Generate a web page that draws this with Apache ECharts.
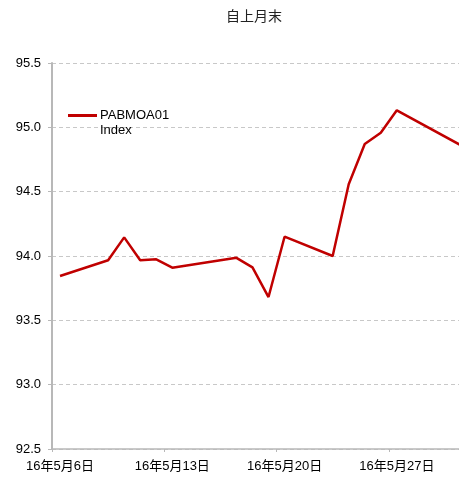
<!DOCTYPE html>
<html>
<head>
<meta charset="utf-8">
<script src="https://cdn.jsdelivr.net/npm/echarts@6/dist/echarts.min.js"></script>
<style>
html,body{margin:0;padding:0;background:#fff;}
#chart{width:459px;height:477px;}
</style>
</head>
<body>
<div id="chart"></div>
<script>
// Calendar days 2016-05-06 .. 2016-05-31 (null = no quote)
var categories = ["16年5月6日","16年5月7日","16年5月8日","16年5月9日","16年5月10日","16年5月11日","16年5月12日",
  "16年5月13日","16年5月14日","16年5月15日","16年5月16日","16年5月17日","16年5月18日","16年5月19日",
  "16年5月20日","16年5月21日","16年5月22日","16年5月23日","16年5月24日","16年5月25日","16年5月26日",
  "16年5月27日","16年5月28日","16年5月29日","16年5月30日","16年5月31日"];
var values = [93.845,null,null,93.967,94.145,93.967,93.974,
  93.909,null,null,null,93.986,93.912,93.681,
  94.15,null,null,94.0,94.557,94.87,94.958,
  95.132,null,null,null,94.86];
var seriesName = "PABMOA01 Index";
var titleText = "自上月末";
var yMin = 92.5, yMax = 95.5, yStep = 0.5;

var chart = echarts.init(document.getElementById('chart'), null, {renderer:'canvas'});
chart.setOption({
  animation:false,
  backgroundColor:'#fff',
  title:{
    text:titleText, left:221, top:4,
    textStyle:{fontFamily:'"Noto Sans CJK SC"', fontSize:14, fontWeight:'normal', color:'#222'}
  },
  legend:{
    left:68, top:93, padding:0, itemWidth:29, itemHeight:3, itemGap:0,
    icon:'rect',
    formatter:function(n){return ' \n' + n.replace(' ', '\n');},
    textStyle:{fontFamily:'"Liberation Sans", Arial, sans-serif', fontSize:13, color:'#000', lineHeight:15, padding:[0,0,0,-2]},
    data:[seriesName]
  },
  grid:{left:52, width:417, top:63, bottom:28, containLabel:false, outerBoundsMode:'none'},
  xAxis:{
    type:'category', data:categories, boundaryGap:true,
    axisLine:{lineStyle:{color:'#b8b8b8', width:1.5}},
    axisTick:{show:true, interval:6, length:3, lineStyle:{color:'#b8b8b8'}},
    axisLabel:{interval:6, margin:11, color:'#000', fontSize:13, fontFamily:'"Liberation Sans", "Noto Sans CJK SC", sans-serif'},
    splitLine:{show:false}
  },
  yAxis:{
    type:'value', min:yMin, max:yMax, interval:yStep,
    axisLine:{show:true, lineStyle:{color:'#b8b8b8', width:2}},
    axisTick:{show:true, length:4, lineStyle:{color:'#b8b8b8'}},
    axisLabel:{margin:11, color:'#000', fontSize:13, fontFamily:'"Liberation Sans", Arial, sans-serif',
      formatter:function(v){return v.toFixed(1);}},
    splitLine:{show:true, lineStyle:{color:'#c8c8c8', type:[4,3], width:1}}
  },
  series:[{
    name:seriesName, type:'line', data:values, connectNulls:true,
    showSymbol:false, symbol:'none',
    lineStyle:{color:'#C00000', width:2.5},
    itemStyle:{color:'#C00000'}
  }]
});
</script>
</body>
</html>
